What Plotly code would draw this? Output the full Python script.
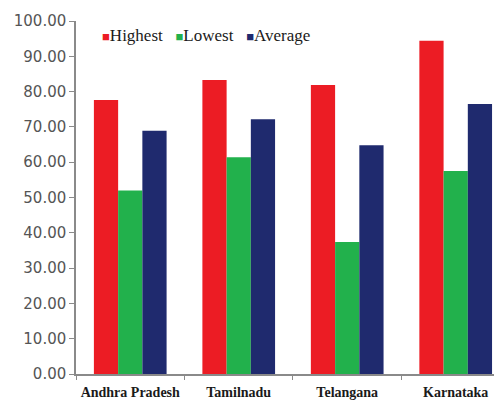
import plotly.graph_objects as go

# States compared
states = ["Andhra Pradesh", "Tamilnadu", "Telangana", "Karnataka"]

# Series values per state
highest = [77.6, 83.3, 81.9, 94.4]
lowest = [52.0, 61.4, 37.4, 57.5]
average = [68.9, 72.2, 64.8, 76.5]

series_names = ["Highest", "Lowest", "Average"]
series_colors = ["#EC1C24", "#22B14C", "#1F2A6E"]

# Y-axis ticks
y_ticks = [0, 10, 20, 30, 40, 50, 60, 70, 80, 90, 100]
y_tick_labels = [f"{v:.2f}" for v in y_ticks]

fig = go.Figure()
for name, vals, col in zip(series_names, [highest, lowest, average], series_colors):
    fig.add_trace(go.Bar(
        x=states, y=vals, name=name,
        marker=dict(color=col, line=dict(width=0)),
        showlegend=False,
    ))

# Plot area in pixels
left, top, bottom = 76, 21, 28
plot_w = 494 - left
plot_h = 402 - top - bottom

# Compact inline legend: coloured square glyph directly before each name
legend_text = "   ".join(
    f'<span style="color:{c};font-size:13px">■</span>{n}'
    for n, c in zip(series_names, series_colors)
)
fig.add_annotation(
    x=(100 - left) / plot_w, xref="paper",
    y=(374 - 36) / plot_h, yref="paper",
    text=legend_text, showarrow=False,
    font=dict(family="Liberation Serif, Times New Roman, serif", size=17, color="#1a1a1a"),
    xanchor="left", yanchor="middle",
)

fig.update_layout(
    width=494, height=402,
    margin=dict(l=left, r=0, t=top, b=bottom),
    paper_bgcolor="white", plot_bgcolor="white",
    barmode="group", bargap=0.33, bargroupgap=0,
    xaxis=dict(
        range=[-0.5, 3.353], automargin=False, tickangle=0,
        tickvals=states, ticktext=[f"<b>{s}</b>" for s in states],
        showgrid=False, showline=True, linecolor="#8a8a8a", linewidth=1.5,
        ticks="outside", tickson="boundaries", ticklen=4, tickcolor="#8a8a8a",
        ticklabelstandoff=4,
        tickfont=dict(family="Liberation Serif", size=14, color="#1a1a1a"),
    ),
    yaxis=dict(
        range=[0, 100], tickvals=y_ticks, ticktext=y_tick_labels, automargin=False,
        showgrid=False, showline=True, linecolor="#8a8a8a", linewidth=1.5,
        ticks="outside", ticklen=5, tickcolor="#8a8a8a",
        tickfont=dict(family="DejaVu Sans", size=15, color="#555555"),
        zeroline=False,
    ),
)

fig.write_html("out.html")
